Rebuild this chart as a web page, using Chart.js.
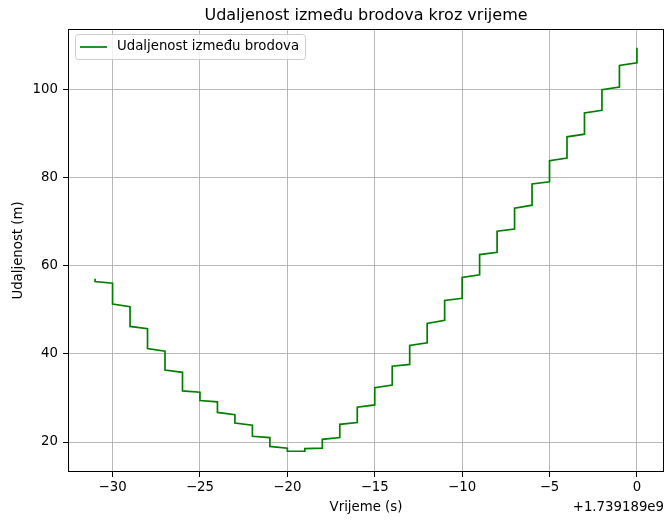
<!DOCTYPE html>
<html>
<head>
<meta charset="utf-8">
<script src="https://cdn.jsdelivr.net/npm/chart.js@4.4.1/dist/chart.umd.min.js"></script>
<style>
    html, body { margin: 0; padding: 0; background: #ffffff; }
    canvas { display: block; }
</style>
</head>
<body>
<canvas id="distanceChart" width="667" height="522"></canvas>
<script>
// ===============================
// Data
// ===============================

// seconds relative to 1.739189e9; each second has a value just before and just after the jump
const seconds = [-31, -30, -29, -28, -27, -26, -25, -24, -23, -22, -21, -20, -19, -18, -17, -16,
                 -15, -14, -13, -12, -11, -10, -9, -8, -7, -6, -5, -4, -3, -2, -1, 0];
const distanceBefore = [57.0, 56.0, 50.7, 45.7, 40.6, 35.8, 31.3, 29.1, 26.2, 23.8, 21.0, 18.6, 17.9, 18.6, 21.0, 24.4,
                        28.4, 32.9, 37.6, 42.5, 47.6, 52.6, 57.9, 63.0, 68.3, 73.7, 79.0, 84.4, 89.8, 95.2, 100.5, 106.0];
const distanceAfter  = [56.4, 51.3, 46.2, 41.2, 36.3, 31.6, 29.4, 26.7, 24.3, 21.3, 19.0, 17.9, 18.5, 20.6, 24.0, 27.9,
                        32.3, 37.2, 41.9, 46.9, 52.1, 57.3, 62.5, 67.8, 73.0, 78.5, 83.8, 89.2, 94.6, 99.9, 105.4, 109.4];

const xTicks = [-30, -25, -20, -15, -10, -5, 0];
const yTicks = [20, 40, 60, 80, 100];

const chartTitle = "Udaljenost između brodova kroz vrijeme";
const seriesLabel = "Udaljenost između brodova";
const xTitle = "Vrijeme (s)";
const yTitle = "Udaljenost (m)";
const xOffsetText = "+1.739189e9";

const points = [];
seconds.forEach((s, i) => {
    points.push({ x: s, y: distanceBefore[i] });
    points.push({ x: s, y: distanceAfter[i] });
});

const FONT = '"DejaVu Sans", sans-serif';
const LABEL_SIZE = 13.3;
const LINE_GREEN = "#008000";

// ===============================
// Frame, titles, legend (matplotlib look)
// ===============================

const decorPlugin = {
    id: "decor",
    afterDraw(chart) {
        const { ctx, chartArea: a } = chart;
        ctx.save();

        // full frame
        ctx.strokeStyle = "#000000";
        ctx.lineWidth = 1;
        ctx.strokeRect(Math.round(a.left) + 0.5, Math.round(a.top) + 0.5,
                       Math.round(a.right - a.left) - 1, Math.round(a.bottom - a.top) - 1);

        ctx.fillStyle = "#000000";

        // title
        ctx.font = "16px " + FONT;
        ctx.textAlign = "center";
        ctx.textBaseline = "alphabetic";
        ctx.fillText(chartTitle, (a.left + a.right) / 2, 20);

        // x title + offset
        ctx.font = LABEL_SIZE + "px " + FONT;
        ctx.fillText(xTitle, (a.left + a.right) / 2, 511);
        ctx.textAlign = "right";
        ctx.fillText(xOffsetText, a.right, 511);

        // y title
        ctx.save();
        ctx.translate(18.5, (a.top + a.bottom) / 2);
        ctx.rotate(-Math.PI / 2);
        ctx.textAlign = "center";
        ctx.textBaseline = "middle";
        ctx.fillText(yTitle, 0, 0);
        ctx.restore();

        // legend
        const lx = 75.5, ly = 34.5, lw = 230, lh = 25, r = 3;
        ctx.beginPath();
        ctx.roundRect(lx, ly, lw, lh, r);
        ctx.fillStyle = "rgba(255,255,255,0.8)";
        ctx.fill();
        ctx.strokeStyle = "#cccccc";
        ctx.lineWidth = 1;
        ctx.stroke();

        ctx.beginPath();
        ctx.moveTo(80, 47);
        ctx.lineTo(107, 47);
        ctx.strokeStyle = LINE_GREEN;
        ctx.lineWidth = 1.7;
        ctx.stroke();

        ctx.fillStyle = "#000000";
        ctx.font = LABEL_SIZE + "px " + FONT;
        ctx.textAlign = "left";
        ctx.textBaseline = "middle";
        ctx.fillText(seriesLabel, 117, 47);

        ctx.restore();
    }
};

// ===============================
// Chart
// ===============================

const ctx = document.getElementById("distanceChart").getContext("2d");

const axisGrid = {
    color: "#b0b0b0",
    lineWidth: 0.9,
    drawTicks: true,
    tickLength: 5,
    tickColor: "#000000",
    tickWidth: 1
};

new Chart(ctx, {
    type: "line",
    data: {
        datasets: [{
            label: seriesLabel,
            data: points,
            borderColor: LINE_GREEN,
            borderWidth: 1.7,
            pointRadius: 0,
            tension: 0,
            fill: false
        }]
    },
    options: {
        responsive: false,
        animation: false,
        layout: {
            padding: { top: 29, right: 3, left: 0, bottom: 0 }
        },
        plugins: {
            legend: { display: false },
            title: { display: false },
            tooltip: { enabled: false }
        },
        scales: {
            x: {
                type: "linear",
                min: -32.55,
                max: 1.55,
                afterBuildTicks: (scale) => { scale.ticks = xTicks.map(v => ({ value: v })); },
                afterFit: (scale) => { scale.height = 50; },
                grid: axisGrid,
                border: { display: false },
                ticks: {
                    color: "#000000",
                    padding: 3,
                    maxRotation: 0,
                    font: { family: FONT, size: LABEL_SIZE },
                    callback: (v) => (v < 0 ? "\u2212" + Math.abs(v) : String(v))
                }
            },
            y: {
                type: "linear",
                min: 13.2,
                max: 113.65,
                afterBuildTicks: (scale) => { scale.ticks = yTicks.map(v => ({ value: v })); },
                afterFit: (scale) => { scale.width = 68; },
                grid: axisGrid,
                border: { display: false },
                ticks: {
                    color: "#000000",
                    padding: 5,
                    font: { family: FONT, size: LABEL_SIZE }
                }
            }
        }
    },
    plugins: [decorPlugin]
});
</script>
</body>
</html>
